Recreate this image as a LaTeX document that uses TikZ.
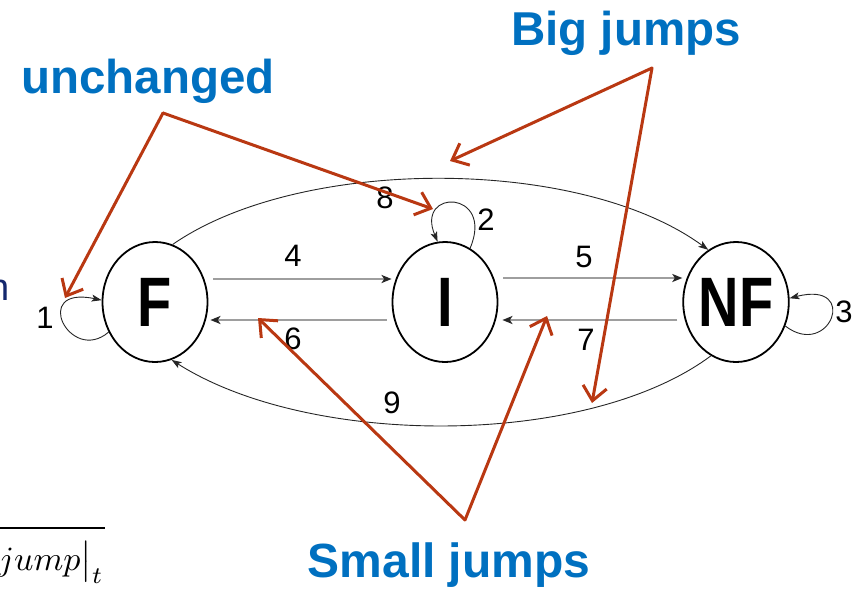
\documentclass[tikz,border=0pt]{standalone}
\usepackage{fontspec}
\usepackage{graphicx}
\setmainfont{Liberation Sans}
\usetikzlibrary{shapes.geometric,arrows.meta}
\definecolor{callblue}{RGB}{0,112,192}
\definecolor{callred}{RGB}{185,56,18}
\definecolor{navyblue}{RGB}{20,40,110}
\begin{document}
\begin{tikzpicture}[x=1pt,y=-1pt,
  state/.style={ellipse, draw=black, line width=1.8pt, minimum width=105pt, minimum height=120pt, inner sep=0pt, font=\fontsize{70}{70}\selectfont\bfseries},
  num/.style={font=\fontsize{31}{31}\selectfont, inner sep=0pt},
  edge/.style={draw=black!85, line width=0.9pt, -{Stealth[length=10pt,width=7pt,inset=2.5pt]}},
  harrow/.style={draw=black!38, line width=2.4pt, -{Stealth[length=10pt,width=8pt,inset=2.5pt,black!85]}},
  callout/.style={font=\fontsize{47.5}{47.5}\selectfont\bfseries, text=callblue, inner sep=0pt, anchor=base},
  pointer/.style={draw=callred, line width=3pt, line cap=round, -{Straight Barb[length=14pt,width=24pt]}}
]
\useasboundingbox (0,0) rectangle (859,590);

% states
\node[state] (F)  at (155,302) {\scalebox{0.8}[1]{F}};
\node[state] (I)  at (445,302) {\scalebox{0.8}[1]{I}};
\node[state] (NF) at (736,302) {\scalebox{0.8}[1]{NF}};

% horizontal transitions
\draw[harrow, shorten <=5pt] ([yshift=23pt]F.east) -- ([yshift=23pt]I.west);
\draw[harrow, shorten <=5pt, shorten >=2pt] ([yshift=-18pt]I.west) -- ([yshift=-18pt]F.east);
\draw[harrow, shorten <=5pt] ([yshift=24pt]I.east) -- ([yshift=24pt]NF.west);
\draw[harrow, shorten <=5pt, shorten >=4pt] ([yshift=-18pt]NF.west) -- ([yshift=-18pt]I.east);

% big jumps
\draw[edge] (F.73) .. controls (300,156) and (580,156) .. (NF.118);
\draw[edge] (NF.245) .. controls (587,448) and (310,448) .. (F.286);

% self loops
\draw[edge] (F.213) .. controls (70,365) and (30,285) .. (F.178);
\draw[edge] (I.65) .. controls (495,190) and (415,188) .. (I.97);
\draw[edge] (NF.334) .. controls (830,360) and (860,280) .. (NF.4);

% transition labels
\node[num] (l1) at (45,318) {1};
\node[num] (l2) at (486,220) {2};
\node[num] (l3) at (844,312) {3};
\node[num] (l4) at (293,256) {4};
\node[num] (l5) at (584,257) {5};
\node[num] (l6) at (293,339) {6};
\node[num] (l7) at (586,340) {7};
\node[num] (l8) at (385,198) {8};
\node[num] (l9) at (392,403) {9};

% callout texts
\node[callout] (tu) at (148,93) {unchanged};
\node[callout] (tb) at (626,45) {Big jumps};
\node[callout, font=\fontsize{48}{48}\selectfont\bfseries] (ts) at (449,577) {Small jumps};

% red pointers
\coordinate (vu) at (163,113);
\coordinate (vb) at (652,68);
\coordinate (vs) at (465,520);
\coordinate (p1) at (65,298);
\coordinate (p2) at (433,209);
\coordinate (p8) at (450,161);
\coordinate (p9) at (592,403);
\coordinate (p6) at (258,318);
\coordinate (p7) at (547,316);
\draw[pointer] (vu) -- (p1);
\draw[pointer] (vu) -- (p2);
\draw[pointer] (vb) -- (p8);
\draw[pointer] (vb) -- (p9);
\draw[pointer] (vs) -- (p6);
\draw[pointer] (vs) -- (p7);

% clipped fragments at the left edge
\node[anchor=base east, inner sep=0pt, text=navyblue, font=\fontsize{38}{38}\selectfont] (frag) at (10,300) {n};
\coordinate (ol1) at (-5,528);
\coordinate (ol2) at (105,528);
\draw[line width=2.2pt] (ol1) -- (ol2);
\node[anchor=base west, inner sep=0pt, font=\normalsize] (jmp) at (-2,570) {\scalebox{3.4}{$jump\big|_t$}};
\end{tikzpicture}
\end{document}
